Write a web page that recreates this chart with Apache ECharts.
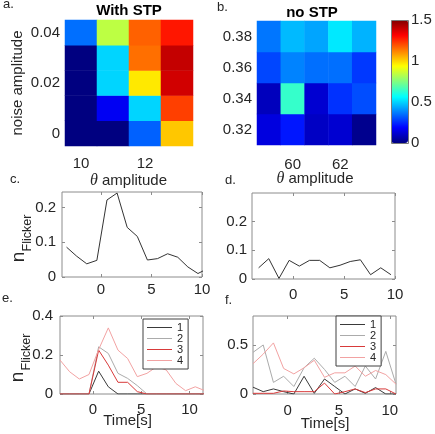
<!DOCTYPE html>
<html>
<head>
<meta charset="utf-8">
<script src="https://cdn.jsdelivr.net/npm/echarts@6/dist/echarts.min.js"></script>
<style>html,body{margin:0;padding:0;background:#fff;}#c{width:435px;height:434px;}</style>
</head>
<body>
<div id="c"></div>
<script>
// ---- Panel a (With STP) ----
const aX = ['10', '11', '12', '13'];
const aY = ['0', '0.01', '0.02', '0.03', '0.04'];
const aVals = [ // rows from bottom (0) to top (0.04)
  [0.00, 0.00, 0.33, 1.02],
  [0.00, 0.17, 0.50, 1.22],
  [0.00, 0.50, 0.97, 1.38],
  [0.00, 0.50, 1.15, 1.40],
  [0.35, 0.84, 1.17, 1.28]
];
// ---- Panel b (no STP) ----
const bX = ['59', '60', '61', '62', '63'];
const bY = ['0.32', '0.34', '0.36', '0.38'];
const bVals = [
  [0.14, 0.22, 0.10, 0.12, 0.02],
  [0.09, 0.64, 0.12, 0.26, 0.30],
  [0.29, 0.38, 0.35, 0.35, 0.27],
  [0.36, 0.46, 0.43, 0.53, 0.45]
];
const cbTicks = [0, 0.5, 1, 1.5];
// ---- Panel c ----
const tC = [-3.4, -2.4, -1.4, -0.4, 0.6, 1.6, 2.6, 3.6, 4.6, 5.6, 6.6, 7.6, 8.6, 9.6, 10.6];
const vC = [0.086, 0.060, 0.038, 0.048, 0.222, 0.242, 0.143, 0.117, 0.049, 0.053, 0.067, 0.057, 0.029, 0.010, 0.025];
// ---- Panel d ----
const tD = [-3.4, -2.4, -1.4, -0.4, 0.6, 1.6, 2.6, 3.6, 4.6, 5.6, 6.6, 7.6, 8.6, 9.6];
const vD = [0.039, 0.071, 0.002, 0.065, 0.045, 0.065, 0.065, 0.039, 0.048, 0.061, 0.067, 0.015, 0.039, 0.015];
// ---- Panel e ----
const tE = [-3.4, -2.4, -1.4, -0.4, 0.6, 1.6, 2.6, 3.6, 4.6, 5.6, 6.6, 7.6, 8.6, 9.6, 10.6, 11.6];
const e1 = [0, 0, 0, 0, 0.117, 0.037, 0, 0, 0, 0, 0, 0, 0, 0, 0, 0];
const e2 = [0, 0, 0, 0, 0.242, 0.208, 0.106, 0.080, 0.043, 0, 0, 0, 0, 0, 0, 0];
const e3 = [0, 0, 0, 0, 0.225, 0.148, 0.060, 0.060, 0.012, 0, 0, 0, 0, 0, 0, 0];
const e4 = [0.174, 0.114, 0.077, 0.100, 0.228, 0.339, 0.225, 0.182, 0.089, 0.106, 0.140, 0.123, 0.054, 0.017, 0.037, 0.017];
// ---- Panel f ----
const tF = [-3.4, -2.4, -1.4, -0.4, 0.6, 1.6, 2.6, 3.6, 4.6, 5.6, 6.6, 7.6, 8.6, 9.6, 10.6];
const f1 = [0.070, 0.024, 0.052, 0.024, 0, 0.182, 0.007, 0.154, 0.077, 0, 0.052, 0.007, 0.066, 0, 0];
const f2 = [0.427, 0.503, 0.119, 0.182, 0.077, 0.269, 0.367, 0.252, 0.119, 0.182, 0.077, 0.287, 0.154, 0.437, 0.101];
const f3 = [0.007, 0.007, 0.007, 0.031, 0.024, 0.024, 0.024, 0.112, 0, 0.024, 0.052, 0.014, 0.052, 0.052, 0];
const f4 = [0.311, 0.409, 0.524, 0.262, 0.206, 0.269, 0.346, 0.171, 0.217, 0.217, 0.287, 0.182, 0.241, 0.199, 0.101];
const legendNames = ['1', '2', '3', '4'];
const xTicks = [0, 5, 10];

const FONT = '"Liberation Sans", Arial, Helvetica, sans-serif';
const TXT = '#262626';
const AX = '#8c8c8c';
const jet = ['#000080', '#0000ff', '#0080ff', '#00ffff', '#80ff80', '#ffff00', '#ff8000', '#ff0000', '#800000'];
const lineColors = ['#3a3a3a', '#ababab', '#d83a3a', '#f2a2a2'];

function heatData(vals) {
  const out = [];
  vals.forEach((row, yi) => row.forEach((v, xi) => out.push([xi, yi, v])));
  return out;
}
function zip(t, v) { return t.map((x, i) => [x, v[i]]); }

const grids = [
  {left: 65, top: 20, width: 128, height: 126},   // a
  {left: 257, top: 21, width: 119, height: 124},  // b
  {left: 391, top: 20, width: 17, height: 123},   // colorbar
  {left: 62, top: 192, width: 140, height: 85},   // c
  {left: 252, top: 193, width: 143, height: 86},  // d
  {left: 60, top: 316, width: 143, height: 78},   // e
  {left: 253, top: 316, width: 143, height: 78}   // f
].map((g, i) => Object.assign({
  outerBoundsMode: 'none', containLabel: false,
  show: i >= 3, borderColor: AX, borderWidth: 1, backgroundColor: 'transparent'
}, g));

const lab = (extra) => Object.assign({color: TXT, fontSize: 15, fontFamily: FONT}, extra);
const noLine = {show: false, onZero: false};

const lineX = [
  {grid: 3, min: -3.85, max: 10, margin: 5},
  {grid: 4, min: -4.05, max: 10, margin: 8},
  {grid: 5, min: -3.4, max: 11.4, margin: 8},
  {grid: 6, min: -3.4, max: 10.6, margin: 9}
];
const lineY = [
  {grid: 3, min: 0, max: 0.245, ticks: [0, 0.1, 0.2], margin: 6},
  {grid: 4, min: 0, max: 0.3, ticks: [0, 0.1, 0.2], margin: 5},
  {grid: 5, min: 0, max: 0.4, ticks: [0, 0.2, 0.4], margin: 7},
  {grid: 6, min: 0, max: 0.8, ticks: [0, 0.5], margin: 5}
];

const xAxis = [
  {type: 'category', gridIndex: 0, data: aX, axisLine: noLine, axisTick: {show: false},
   splitLine: {show: false}, axisLabel: lab({interval: 1, margin: 10})},
  {type: 'category', gridIndex: 1, data: bX, axisLine: noLine, axisTick: {show: false},
   splitLine: {show: false}, axisLabel: lab({interval: (i) => i % 2 === 1, margin: 12})},
  {type: 'value', gridIndex: 2, show: false, min: 0, max: 1}
];
const yAxis = [
  {type: 'category', gridIndex: 0, data: aY, axisLine: noLine, axisTick: {show: false},
   splitLine: {show: false}, axisLabel: lab({interval: 1, margin: 5})},
  {type: 'category', gridIndex: 1, data: bY, axisLine: noLine, axisTick: {show: false},
   splitLine: {show: false}, axisLabel: lab({interval: 0, margin: 5})},
  {type: 'value', gridIndex: 2, position: 'right', min: 0, max: 1.5,
   axisLine: noLine, axisTick: {show: false}, splitLine: {show: false},
   axisLabel: lab({margin: 3, customValues: cbTicks})}
];
lineX.forEach(a => xAxis.push({
  type: 'value', gridIndex: a.grid, min: a.min, max: a.max, position: 'bottom',
  axisLine: noLine, splitLine: {show: false},
  axisTick: {show: true, inside: true, length: 3, lineStyle: {color: AX}, customValues: xTicks},
  axisLabel: lab({margin: a.margin, customValues: xTicks})
}));
lineY.forEach(a => yAxis.push({
  type: 'value', gridIndex: a.grid, min: a.min, max: a.max, position: 'left',
  axisLine: noLine, splitLine: {show: false},
  axisTick: {show: true, inside: true, length: 3, lineStyle: {color: AX}, customValues: a.ticks},
  axisLabel: lab({margin: a.margin, customValues: a.ticks})
}));
lineX.forEach(a => xAxis.push({
  type: 'value', gridIndex: a.grid, min: a.min, max: a.max, position: 'top',
  axisLine: noLine, splitLine: {show: false}, axisLabel: {show: false},
  axisTick: {show: true, inside: true, length: 3, lineStyle: {color: AX}, customValues: xTicks}
}));
lineY.forEach(a => yAxis.push({
  type: 'value', gridIndex: a.grid, min: a.min, max: a.max, position: 'right',
  axisLine: noLine, splitLine: {show: false}, axisLabel: {show: false},
  axisTick: {show: true, inside: true, length: 3, lineStyle: {color: AX}, customValues: a.ticks}
}));

function line(name, axisIdx, t, v, color) {
  return {type: 'line', name: name, xAxisIndex: axisIdx, yAxisIndex: axisIdx,
    data: zip(t, v), symbol: 'none', clip: true, silent: true,
    lineStyle: {width: 1, color: color}, itemStyle: {color: color}};
}

const series = [
  {type: 'heatmap', xAxisIndex: 0, yAxisIndex: 0, data: heatData(aVals), silent: true},
  {type: 'heatmap', xAxisIndex: 1, yAxisIndex: 1, data: heatData(bVals), silent: true},
  line('c', 3, tC, vC, '#333333'),
  line('d', 4, tD, vD, '#333333'),
  line('1', 5, tE, e1, lineColors[0]),
  line('2', 5, tE, e2, lineColors[1]),
  line('3', 5, tE, e3, lineColors[2]),
  line('4', 5, tE, e4, lineColors[3]),
  line('1', 6, tF, f1, lineColors[0]),
  line('2', 6, tF, f2, lineColors[1]),
  line('3', 6, tF, f3, lineColors[2]),
  line('4', 6, tF, f4, lineColors[3])
];

function legendAt(left, top) {
  return {
    data: legendNames.map(n => ({name: n, icon: 'rect'})), orient: 'vertical', left: left, top: top,
    padding: [3, 5, 3, 4], itemGap: 0, itemWidth: 25, itemHeight: 1,
    borderColor: '#404040', borderWidth: 1, backgroundColor: '#fff',
    selectedMode: false,
    textStyle: {color: TXT, fontSize: 11, fontFamily: FONT, lineHeight: 10.5}
  };
}

function txt(x, y, s, size, extra, rot) {
  const el = {type: 'text', x: x, y: y, silent: true,
    style: Object.assign({text: s, fill: TXT, fontSize: size, fontFamily: FONT,
      textAlign: 'center', textVerticalAlign: 'middle', align: 'center', verticalAlign: 'middle'}, extra || {})};
  if (rot) el.rotation = rot;
  return el;
}
const thetaRich = {t: {fontStyle: 'italic', fontFamily: '"Liberation Serif", "DejaVu Serif", serif', fontSize: 16, fill: TXT, color: TXT},
                   r: {fontSize: 15, fontFamily: FONT, fill: TXT, color: TXT}};
const R = Math.PI / 2;
const graphic = [
  txt(3, 4, 'a.', 13, {textAlign: 'left', align: 'left'}),
  txt(217, 7, 'b.', 13, {textAlign: 'left', align: 'left'}),
  txt(10, 179, 'c.', 13, {textAlign: 'left', align: 'left'}),
  txt(225, 180, 'd.', 13, {textAlign: 'left', align: 'left'}),
  txt(2, 298, 'e.', 13, {textAlign: 'left', align: 'left'}),
  txt(225, 300, 'f.', 13, {textAlign: 'left', align: 'left'}),
  txt(129, 11, 'With STP', 15, {fontWeight: 'bold', fill: '#000'}),
  txt(312, 13, 'no STP', 15, {fontWeight: 'bold', fill: '#000'}),
  txt(17.5, 83, 'noise amplitude', 15, null, R),
  txt(128.5, 181, '{t|θ}{r| amplitude}', 15, {rich: thetaRich}),
  txt(315, 179, '{t|θ}{r| amplitude}', 15, {rich: thetaRich}),
  txt(127.5, 421, 'Time[s]', 15),
  txt(325, 424, 'Time[s]', 15),
  txt(19, 257, 'n', 19, null, R),
  txt(28, 233, 'Flicker', 12.5, null, R),
  txt(18, 377, 'n', 19, null, R),
  txt(27, 352, 'Flicker', 12.5, null, R),
  // colorbar frame
  {type: 'rect', z: 100, silent: true, shape: {x: 391.5, y: 20.5, width: 17, height: 123},
   style: {fill: 'none', stroke: '#7a7a7a', lineWidth: 1}}
];

const chart = echarts.init(document.getElementById('c'), null, {renderer: 'canvas'});
chart.setOption({
  animation: false,
  backgroundColor: '#fff',
  textStyle: {fontFamily: FONT},
  grid: grids,
  xAxis: xAxis,
  yAxis: yAxis,
  visualMap: {
    type: 'continuous', seriesIndex: [0, 1], dimension: 2, min: 0, max: 1.5,
    left: 391, top: 20, itemWidth: 17, itemHeight: 123, padding: 0,
    calculable: false, realtime: false, text: null, hoverLink: false,
    inRange: {color: jet}
  },
  legend: [legendAt(143, 319), legendAt(336, 316)],
  series: series,
  graphic: graphic
});
</script>
</body>
</html>
